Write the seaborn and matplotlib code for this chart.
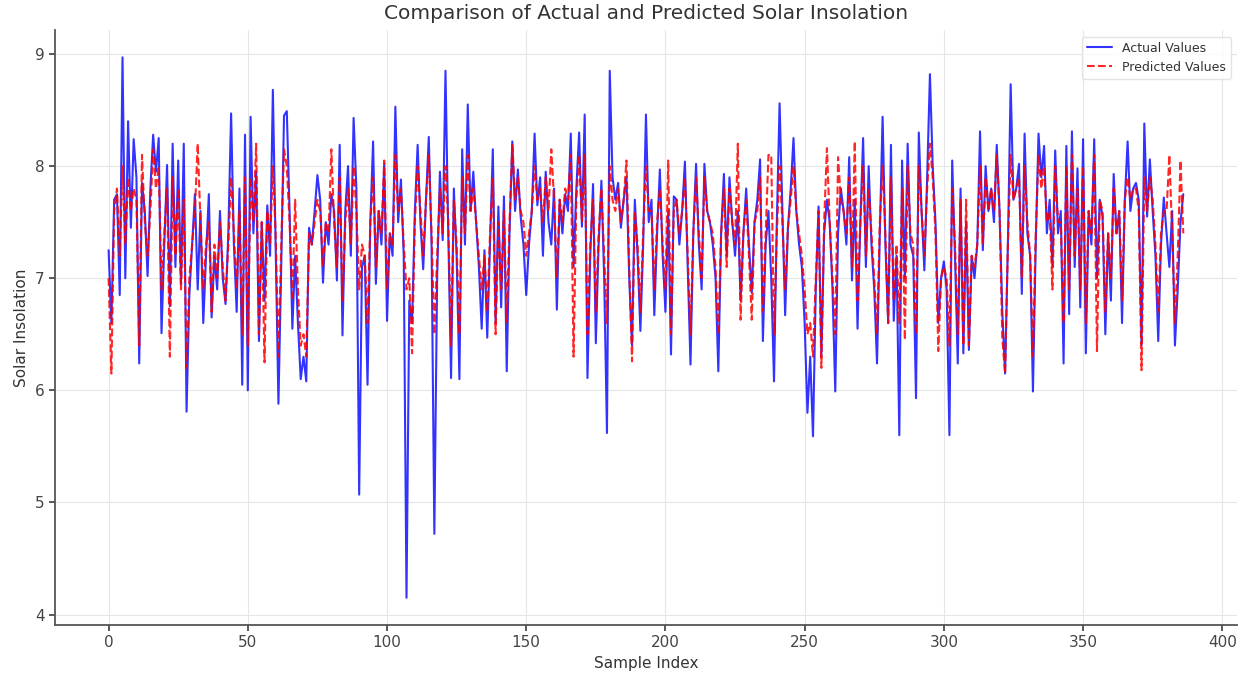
import numpy as np
import pandas as pd
import matplotlib
matplotlib.use("Agg")
import matplotlib.pyplot as plt
import seaborn as sns

# Values (index 0..386)
actual_values = [
    7.25, 6.6, 7.7, 7.75, 6.85, 8.97, 7.0, 8.4, 7.45, 8.24,
    7.9, 6.24, 7.85, 7.6, 7.02, 7.8, 8.28, 7.95, 8.25, 6.51,
    7.3, 8.01, 6.75, 8.2, 7.1, 8.05, 6.95, 8.2, 5.81, 6.85,
    7.3, 7.75, 6.9, 7.6, 6.6, 7.2, 7.75, 6.65, 7.2, 6.9,
    7.6, 7.0, 6.77, 7.4, 8.47, 7.3, 6.7, 7.8, 6.05, 8.28,
    6.0, 8.44, 7.4, 7.95, 6.44, 7.5, 6.8, 7.65, 7.2, 8.68,
    7.3, 5.88, 7.1, 8.45, 8.49, 7.6, 6.55, 7.2, 6.6, 6.1,
    6.3, 6.08, 7.45, 7.3, 7.6, 7.92, 7.7, 6.96, 7.5, 7.3,
    7.75, 7.6, 6.98, 8.19, 6.49, 7.6, 8.0, 7.2, 8.43, 7.8,
    5.07, 7.1, 7.2, 6.05, 7.5, 8.22, 6.95, 7.6, 7.3, 8.02,
    6.62, 7.4, 7.2, 8.53, 7.5, 7.88, 7.2, 4.15, 6.8, 6.6,
    7.6, 8.19, 7.5, 7.08, 7.7, 8.26, 7.3, 4.72, 7.0, 7.95,
    7.34, 8.85, 7.4, 6.11, 7.8, 7.2, 6.1, 8.15, 7.3, 8.55,
    7.6, 7.95, 7.5, 7.1, 6.55, 7.25, 6.47, 7.3, 8.15, 6.6,
    7.64, 6.74, 7.73, 6.17, 7.4, 8.22, 7.6, 7.97, 7.55, 7.3,
    6.85, 7.3, 7.6, 8.29, 7.65, 7.9, 7.2, 7.95, 7.5, 7.3,
    7.8, 6.72, 7.7, 7.4, 7.75, 7.6, 8.29, 7.1, 7.8, 8.3,
    7.46, 8.46, 6.11, 7.2, 7.84, 6.42, 7.3, 7.87, 7.0, 5.62,
    8.85, 7.9, 7.7, 7.85, 7.45, 7.7, 7.9, 7.0, 6.4, 7.7,
    7.2, 6.53, 7.3, 8.46, 7.5, 7.7, 6.67, 7.4, 7.97, 7.2,
    6.7, 7.6, 6.32, 7.73, 7.7, 7.3, 7.6, 8.04, 7.1, 6.23,
    7.4, 8.02, 7.3, 6.9, 8.02, 7.6, 7.5, 7.3, 7.0, 6.17,
    7.4, 7.93, 7.2, 7.9, 7.5, 7.2, 7.6, 6.8, 7.4, 7.8,
    7.3, 6.87, 7.5, 7.7, 8.06, 6.44, 7.3, 7.6, 7.0, 6.08,
    7.5, 8.56, 7.6, 6.67, 7.45, 7.8, 8.25, 7.6, 7.3, 7.1,
    6.6, 5.8, 6.3, 5.59, 6.9, 7.64, 6.3, 7.4, 7.7, 7.5,
    6.9, 5.99, 7.4, 7.8, 7.6, 7.3, 8.08, 6.98, 7.7, 6.55,
    7.5, 8.25, 7.1, 8.0, 7.3, 6.9, 6.24, 7.4, 8.44, 7.3,
    6.6, 8.19, 6.62, 7.2, 5.6, 8.05, 7.0, 8.2, 7.3, 7.2,
    5.93, 8.3, 7.6, 7.07, 7.9, 8.82, 8.0, 7.5, 6.6, 7.0,
    7.15, 6.9, 5.6, 8.05, 7.2, 6.24, 7.8, 6.33, 7.5, 6.36,
    7.2, 7.0, 7.3, 8.31, 7.25, 8.0, 7.6, 7.8, 7.5, 8.19,
    7.6, 6.7, 6.15, 7.3, 8.73, 7.7, 7.8, 8.02, 6.86, 8.29,
    7.4, 7.2, 5.99, 7.3, 8.29, 7.9, 8.18, 7.4, 7.7, 7.1,
    8.14, 7.4, 7.6, 6.24, 8.18, 6.68, 8.31, 7.1, 7.98, 6.74,
    8.24, 6.33, 7.6, 7.3, 8.24, 7.0, 7.7, 7.55, 6.5, 7.4,
    6.8, 7.93, 7.4, 7.6, 6.6, 7.7, 8.22, 7.6, 7.8, 7.85,
    7.7, 6.4, 8.38, 7.55, 8.06, 7.6, 7.2, 6.44, 7.3, 7.72,
    7.4, 7.1, 7.6, 6.4, 6.9, 7.5, 7.75,
]

predicted_values = [
    7.0, 6.15, 7.6, 7.8, 7.2, 8.0, 7.3, 7.9, 7.6, 7.8,
    7.7, 6.4, 8.1, 7.5, 7.2, 7.6, 8.15, 7.8, 8.0, 6.9,
    7.4, 7.8, 6.3, 7.9, 7.2, 7.8, 6.9, 7.7, 6.2, 7.0,
    7.3, 7.6, 8.2, 7.5, 6.9, 7.3, 7.5, 6.7, 7.3, 7.0,
    7.5, 7.1, 6.8, 7.3, 7.9, 7.4, 6.9, 7.6, 6.5, 7.9,
    6.4, 7.9, 7.5, 8.2, 6.5, 7.5, 6.25, 7.6, 7.3, 8.0,
    7.4, 6.3, 7.3, 8.15, 8.0, 7.5, 6.8, 7.7, 6.9, 6.4,
    6.5, 6.3, 7.4, 7.3, 7.5, 7.7, 7.6, 7.1, 7.5, 7.4,
    8.15, 7.5, 7.1, 7.9, 6.8, 7.5, 7.8, 7.3, 8.0, 7.6,
    6.9, 7.3, 7.2, 6.6, 7.5, 7.9, 7.1, 7.6, 7.4, 8.05,
    6.9, 7.4, 7.3, 8.1, 7.6, 7.8, 7.3, 6.9, 7.0, 6.33,
    7.5, 8.0, 7.6, 7.2, 7.7, 8.1, 7.4, 6.5, 7.2, 7.8,
    7.4, 8.0, 7.5, 6.4, 7.7, 7.3, 6.5, 7.9, 7.4, 8.1,
    7.6, 7.8, 7.5, 7.2, 6.9, 7.2, 6.7, 7.4, 7.9, 6.5,
    7.5, 6.9, 7.6, 6.6, 7.5, 8.2, 7.7, 7.9, 7.6, 7.5,
    7.2, 7.4, 7.6, 8.0, 7.7, 7.8, 7.5, 7.9, 7.6, 8.15,
    7.7, 7.0, 7.7, 7.5, 7.8, 7.7, 8.1, 6.3, 7.7, 8.1,
    7.5, 8.1, 6.5, 7.3, 7.7, 6.7, 7.4, 7.8, 7.2, 6.6,
    8.0, 7.7, 7.6, 7.8, 7.5, 7.7, 8.05, 7.1, 6.26, 7.6,
    7.3, 6.7, 7.4, 8.0, 7.6, 7.6, 6.9, 7.5, 7.8, 7.3,
    6.9, 8.05, 6.5, 7.6, 7.7, 7.4, 7.6, 7.9, 7.2, 6.5,
    7.4, 7.9, 7.4, 7.0, 7.9, 7.6, 7.5, 7.4, 7.1, 6.5,
    7.4, 7.8, 7.1, 7.8, 7.5, 7.3, 8.2, 6.63, 7.4, 7.7,
    7.2, 6.63, 7.5, 7.6, 7.9, 6.7, 7.4, 8.1, 8.1, 6.5,
    7.4, 8.0, 7.5, 6.9, 7.45, 7.7, 8.0, 7.6, 7.4, 7.2,
    6.9, 6.5, 6.6, 6.3, 7.0, 7.6, 6.2, 7.5, 8.16, 7.5,
    7.0, 6.5, 8.08, 7.7, 7.6, 7.4, 7.9, 7.1, 8.22, 6.8,
    7.5, 8.0, 7.2, 7.8, 7.4, 7.0, 6.5, 7.5, 8.0, 7.4,
    6.6, 7.9, 6.8, 7.3, 6.6, 7.8, 6.45, 8.0, 7.4, 7.3,
    6.5, 8.0, 7.6, 7.2, 7.8, 8.2, 7.9, 7.4, 6.35, 7.0,
    7.1, 7.0, 6.4, 7.8, 7.3, 6.5, 7.7, 6.4, 7.7, 6.4,
    7.2, 7.1, 7.3, 8.0, 7.3, 7.9, 7.6, 7.8, 7.6, 8.1,
    7.6, 6.46, 6.15, 7.3, 8.1, 7.7, 7.8, 7.9, 7.0, 8.0,
    7.5, 7.2, 6.3, 7.4, 8.1, 7.8, 8.0, 7.5, 7.6, 6.9,
    8.0, 7.5, 7.5, 6.6, 8.0, 6.9, 8.1, 7.2, 7.8, 6.9,
    8.0, 6.6, 7.6, 7.4, 8.1, 6.35, 7.7, 7.6, 6.7, 7.4,
    7.0, 7.8, 7.4, 7.6, 6.8, 7.7, 7.9, 7.7, 7.8, 7.8,
    7.6, 6.18, 7.9, 7.6, 7.9, 7.7, 7.3, 6.7, 7.4, 7.6,
    7.6, 8.1, 7.4, 6.6, 7.2, 8.05, 7.4,
]

sample_index = list(range(len(actual_values)))

df = pd.DataFrame({
    "Sample Index": sample_index,
    "Actual": actual_values,
    "Predicted": predicted_values,
})

sns.set_theme(style="whitegrid")
plt.rcParams.update({
    "axes.edgecolor": "#555555",
    "axes.linewidth": 1.3,
    "grid.color": "#e6e6e6",
    "grid.linewidth": 0.8,
    "xtick.color": "#444444",
    "ytick.color": "#444444",
    "xtick.bottom": True,
    "ytick.left": True,
    "xtick.major.size": 4,
    "ytick.major.size": 4,
    "text.color": "#333333",
    "axes.labelcolor": "#333333",
})
plt.rcParams["font.family"] = ["DejaVu Sans"]

fig, ax = plt.subplots(figsize=(12.47, 6.74), dpi=100)
fig.subplots_adjust(left=0.044, right=0.992, top=0.955, bottom=0.073)

# Actual series as a solid blue line, predictions as a red dashed line
sns.lineplot(data=df, x="Sample Index", y="Actual", ax=ax, color="blue",
             linewidth=1.5, alpha=0.8, label="Actual Values")
sns.lineplot(data=df, x="Sample Index", y="Predicted", ax=ax, color="red",
             linewidth=1.5, alpha=0.85, linestyle="--", dashes=(3, 1.5),
             label="Predicted Values")

sns.despine(ax=ax, top=True, right=True)
ax.set_title("Comparison of Actual and Predicted Solar Insolation", fontsize=14.5,
             color="#333333", pad=8)
ax.set_xlabel("Sample Index", fontsize=11)
ax.set_ylabel("Solar Insolation", fontsize=11)
ax.tick_params(labelsize=11)
ax.legend(loc="upper right", fontsize=9, frameon=True, edgecolor="#dddddd")

fig.savefig("out.png", dpi=100)
